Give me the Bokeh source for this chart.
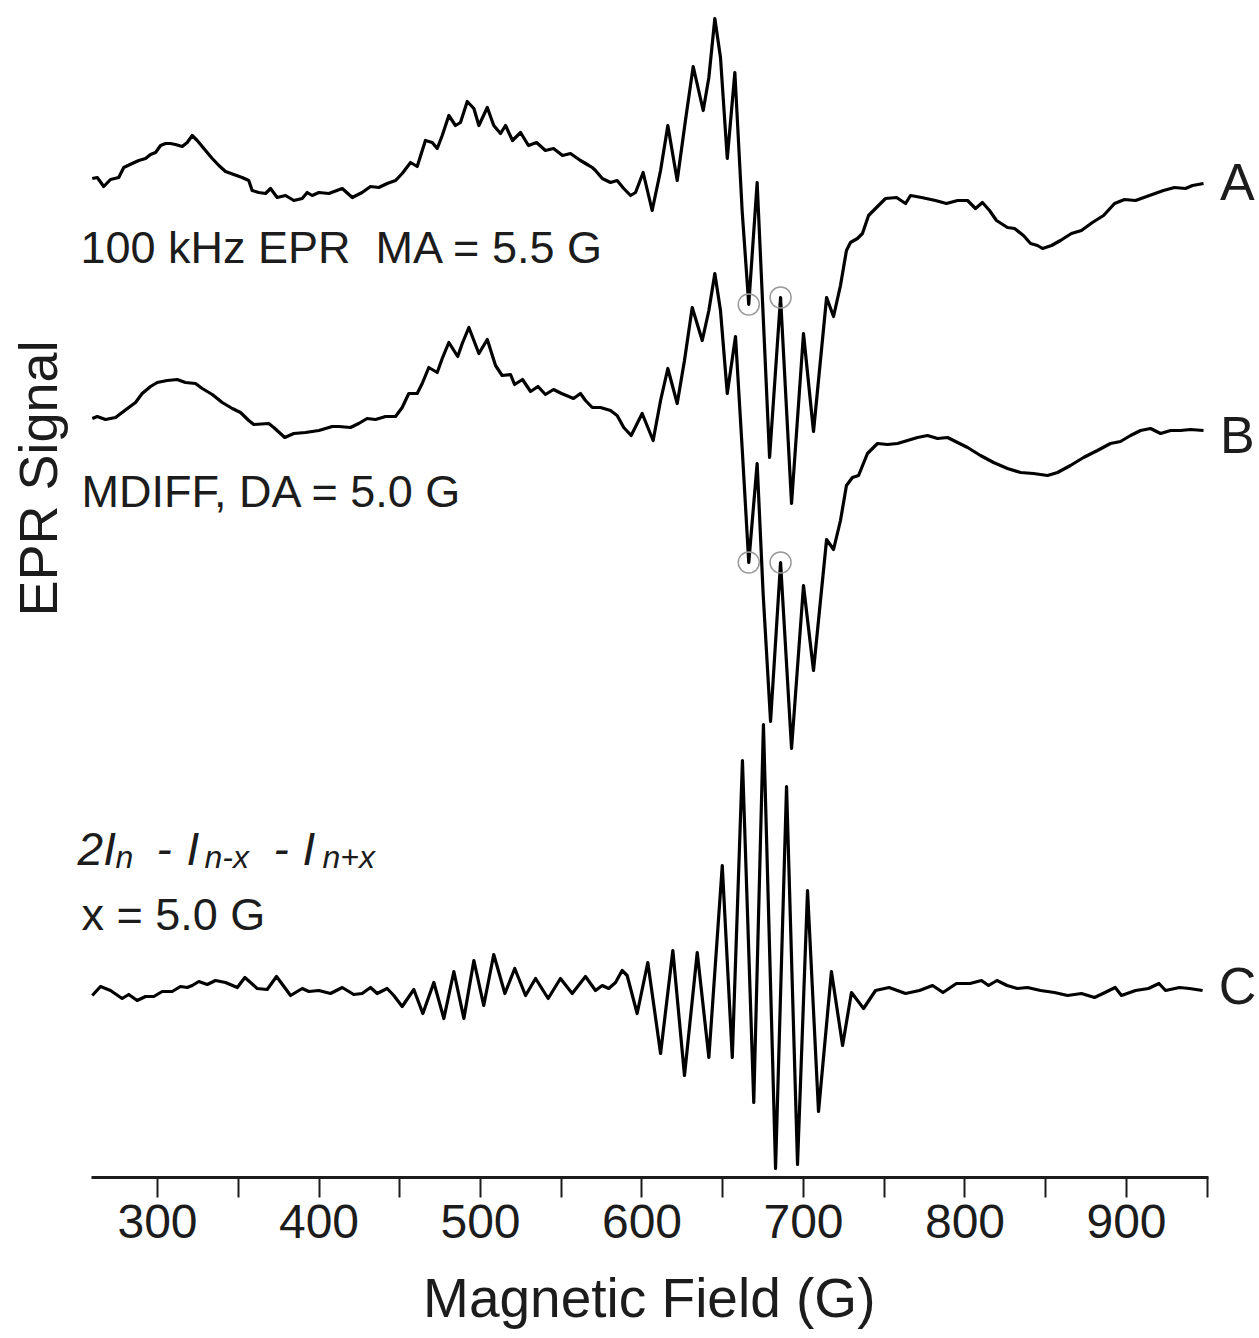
import numpy as np
from bokeh.plotting import figure
from bokeh.models import Range1d, FixedTicker
from bokeh.core.properties import value
from bokeh.embed import file_html
from bokeh.resources import INLINE

# ---- data: (magnetic field in G, signal in arbitrary units) ----
trace_a = [
    (259.6, 2), (262.7, 3), (266.7, -6), (270.9, 1), (276.0, 3), (279.1, 13), (284.3, 17), (288.4, 20),
    (292.6, 22), (295.7, 26), (298.8, 28), (301.9, 35), (305.0, 37), (308.0, 37), (311.1, 36), (315.3, 34),
    (318.4, 38), (321.5, 45), (324.6, 40), (328.7, 32), (333.9, 22), (338.0, 15), (342.1, 9), (347.2, 6),
    (352.4, 3), (356.5, 0), (358.6, -10), (362.7, -12), (366.9, -13), (370.0, -8), (374.1, -17), (379.3, -15),
    (384.4, -20), (389.6, -18), (392.7, -12), (395.8, -15), (399.9, -12), (406.1, -13), (414.4, -8), (420.6, -17),
    (426.7, -12), (431.9, -6), (437.0, -7), (442.2, -3), (447.4, 0), (451.5, 7), (456.7, 18), (460.8, 14),
    (465.9, 40), (470.1, 38), (473.2, 32), (476.3, 45), (480.4, 65), (484.5, 55), (487.6, 58), (491.8, 79),
    (495.9, 72), (499.0, 55), (504.2, 73), (508.2, 55), (512.4, 47), (515.5, 55), (519.8, 40), (524.8, 48),
    (529.7, 35), (534.7, 38), (540.2, 30), (545.2, 32), (550.8, 25), (555.7, 27), (561.9, 20), (566.1, 16),
    (569.2, 13), (571.2, 10), (575.4, 2), (580.5, -2), (584.6, 0), (588.7, -8), (592.9, -15), (596.0, -12),
    (600.7, 8), (606.3, -30), (611.5, 10), (616.0, 55), (621.8, 0), (626.9, 60), (631.7, 114), (637.9, 70),
    (641.4, 103), (645.1, 162), (648.6, 123), (652.8, 22), (657.5, 108), (662.0, -30), (666.1, -124), (671.3, -2),
    (679.0, -277), (685.8, -117), (692.6, -323), (700.0, -153), (706.2, -251), (714.3, -117), (718.6, -136),
    (722.9, -105), (726.6, -70), (729.1, -62), (733.4, -58), (736.5, -53), (740.3, -35), (744.6, -28),
    (750.8, -18), (757.6, -17), (763.2, -23), (766.3, -15), (773.1, -17), (781.7, -20), (788.5, -23),
    (795.4, -20), (801.6, -20), (806.5, -28), (810.8, -22), (815.2, -30), (819.5, -40), (826.3, -47),
    (830.7, -48), (836.2, -55), (840.6, -63), (844.9, -65), (848.0, -68), (853.6, -65), (859.1, -60),
    (865.9, -53), (872.1, -50), (878.9, -42), (885.8, -35), (892.6, -23), (898.8, -19), (905.6, -20),
    (914.2, -15), (922.9, -10), (929.7, -7), (936.5, -8), (940.9, -5), (947.7, -3),
]

trace_b = [
    (259.6, 0), (262.7, 2), (267.8, -1), (274.0, 1), (278.1, 6), (282.2, 11), (286.4, 16), (290.5, 25),
    (295.7, 32), (299.8, 36), (306.0, 38), (312.2, 39), (317.3, 36), (323.5, 35), (327.7, 30), (333.9, 24),
    (340.1, 16), (346.3, 10), (351.4, 6), (356.5, -2), (359.6, -6), (368.9, -5), (372.0, -9), (378.8, -19),
    (384.4, -15), (391.6, -14), (399.9, -12), (408.2, -8), (412.3, -8), (419.5, -9), (424.6, -5), (429.8, 0),
    (435.0, -1), (441.2, 2), (447.4, 2), (451.5, 11), (455.6, 25), (460.8, 25), (463.9, 35), (468.0, 51),
    (473.2, 46), (476.3, 60), (480.4, 76), (485.9, 62), (488.7, 75), (492.8, 91), (499.0, 65), (504.2, 79),
    (509.3, 53), (513.4, 43), (518.6, 44), (521.1, 34), (526.0, 39), (531.0, 27), (535.6, 32), (540.2, 24),
    (545.2, 29), (550.2, 25), (557.6, 20), (561.9, 25), (565.0, 18), (569.2, 11), (574.3, 11), (580.5, 8),
    (584.6, 3), (588.7, -9), (593.3, -17), (597.0, -5), (600.1, 5), (606.9, -22), (611.5, 18), (616.0, 50),
    (621.8, 15), (626.3, 58), (631.1, 111), (637.3, 78), (641.4, 108), (645.1, 145), (648.6, 108), (652.8, 25),
    (657.9, 82), (662.0, -29), (666.1, -144), (671.3, -45), (675.0, -175), (679.6, -303), (685.8, -144),
    (692.6, -330), (700.0, -167), (706.2, -252), (714.3, -121), (718.6, -131), (722.9, -102), (726.6, -67),
    (730.3, -59), (734.1, -57), (739.6, -35), (745.8, -25), (752.0, -26), (758.2, -25), (764.4, -22),
    (770.6, -19), (776.8, -17), (783.0, -20), (789.2, -19), (795.4, -24), (801.6, -29), (809.6, -37),
    (817.7, -44), (826.3, -50), (834.4, -54), (842.4, -55), (851.1, -57), (857.3, -54), (865.3, -47),
    (873.4, -39), (882.0, -32), (890.1, -25), (896.3, -23), (902.5, -17), (908.7, -12), (914.9, -10),
    (921.1, -15), (927.3, -12), (933.4, -12), (939.6, -11), (947.7, -12),
]

trace_c = [
    (259.6, -7), (264.7, 2), (270.9, -2), (278.1, -10), (282.2, -6), (287.4, -12), (292.6, -8), (297.7, -8),
    (302.9, -3), (309.1, -3), (314.2, 2), (318.4, 1), (321.5, 3), (325.6, 7), (330.8, 4), (335.9, 8),
    (342.1, 6), (349.4, 1), (354.1, 11), (361.7, 0), (367.9, -1), (373.7, 12), (382.4, -7), (389.6, 0),
    (393.7, -3), (399.9, -2), (407.1, -5), (414.4, 1), (421.5, -6), (426.7, -5), (431.9, 1), (436.0, -5),
    (442.2, 0), (446.3, -7), (451.5, -18), (458.7, -1), (464.3, -25), (471.1, 6), (477.3, -30), (483.5, 17),
    (489.7, -30), (495.9, 28), (502.0, -17), (508.2, 34), (515.1, -5), (521.2, 20), (527.9, -7), (534.1, 10),
    (541.9, -10), (549.5, 10), (556.8, -5), (565.0, 12), (571.2, -2), (575.4, 3), (579.4, 0), (583.6, 6),
    (587.7, 18), (590.8, 13), (597.0, -25), (603.6, 26), (611.5, -65), (619.1, 38), (626.3, -87), (634.2, 36),
    (641.4, -69), (649.7, 123), (655.9, -69), (662.2, 228), (669.2, -114), (675.2, 264), (682.7, -180),
    (689.5, 202), (696.3, -176), (702.5, 98), (709.3, -123), (717.3, 17), (724.2, -57), (729.7, -4),
    (737.2, -20), (744.6, -2), (753.0, 1), (763.2, -5), (771.8, -2), (779.9, 3), (786.4, -4), (794.7, 5),
    (803.1, 5), (810.2, 8), (814.6, 3), (819.8, 8), (826.1, 3), (832.4, 0), (838.7, 1), (846.8, -2),
    (855.4, -4), (863.5, -7), (872.1, -5), (880.2, -9), (886.7, -4), (893.0, 1), (896.9, -7), (905.6, -2),
    (913.6, 0), (920.1, 5), (924.2, -2), (932.8, 1), (939.0, 0), (947.1, -2),
]

trace_names = ["A", "B", "C"]
mark_fields = [666.1, 685.8]          # circled points on traces A and B
major_ticks = [300, 400, 500, 600, 700, 800, 900]
minor_ticks = [350, 450, 550, 650, 750, 850, 950]
axis_bounds = (259, 950)

# ---- layout (vertical offsets of the stacked traces, in the same units) ----
offsets = [-180, -418, -988]
axis_level = -1177

FONT = value("Liberation Sans")
INK = "#1c1c1c"

p = figure(width=1259, height=1338,
           x_range=Range1d(202.78, 982.36), y_range=Range1d(-1338, 0),
           output_backend="svg", toolbar_location=None, y_axis_location=None,
           min_border_left=0, min_border_right=0, min_border_top=0, min_border_bottom=0)
p.outline_line_color = None
p.grid.visible = False
p.background_fill_color = "white"
p.border_fill_color = "white"

traces = [trace_a, trace_b, trace_c]
for tr, off in zip(traces, offsets):
    xs = np.array([t[0] for t in tr])
    ys = np.array([t[1] for t in tr]) + off
    p.line(xs, ys, line_color="black", line_width=3.2, line_join="round")

# circled points on A and B
cx, cy = [], []
for tr, off in zip(traces[:2], offsets[:2]):
    xs = np.array([t[0] for t in tr])
    for f in mark_fields:
        i = int(np.argmin(np.abs(xs - f)))
        cx.append(xs[i])
        cy.append(tr[i][1] + off)
p.scatter(cx, cy, marker="circle", size=21, fill_color=None, line_color="#9a9a9a", line_width=1.5)

# trace letters
p.text(x=[968.7] * 3, y=[-181, -434, -985], text=trace_names, text_font=FONT,
       text_font_size="52px", text_align="center", text_baseline="alphabetic", text_color=INK)

# captions
p.text(x=[252.3, 252.9, 252.9], y=[-247, -491, -914],
       text=["100 kHz EPR \u00a0MA = 5.5 G", "MDIFF, DA = 5.0 G", "x = 5.0 G"],
       text_font=FONT, text_font_size="45px", text_align="left",
       text_baseline="alphabetic", text_color=INK)

# formula 2I_n - I_(n-x) - I_(n+x)
p.text(x=[250.5, 299.4, 318.0, 371.8, 389.8], y=[-848] * 5,
       text=["2I", "-", "I", "-", "I"], text_font=FONT, text_font_size="46px",
       text_font_style="italic", text_align="left", text_baseline="alphabetic", text_color=INK)
p.text(x=[274.0, 329.1, 402.2], y=[-856] * 3,
       text=["n", "n-x", "n+x"], text_font=FONT, text_font_size="32px",
       text_font_style="italic", text_align="left", text_baseline="alphabetic", text_color=INK)

# y label
p.text(x=[226.3], y=[-478], text=["EPR Signal"], text_font=FONT, text_font_size="54px",
       angle=np.pi / 2, text_align="center", text_baseline="middle", text_color=INK)

# x-axis title, centred under the drawn axis line
p.text(x=[0.5 * (axis_bounds[0] + axis_bounds[1])], y=[-1297], text=["Magnetic Field (G)"],
       text_font=FONT, text_font_size="55px", text_align="center",
       text_baseline="alphabetic", text_color=INK)

ax = p.xaxis[0]
ax.fixed_location = axis_level
ax.ticker = FixedTicker(ticks=major_ticks, minor_ticks=minor_ticks)
ax.bounds = (axis_bounds[0], axis_bounds[1] + 0.5)
ax.axis_line_width = 3
ax.axis_line_color = INK
ax.major_tick_in = 0
ax.major_tick_out = 20
ax.minor_tick_in = 0
ax.minor_tick_out = 20
ax.major_tick_line_width = 2
ax.minor_tick_line_width = 2
ax.major_tick_line_color = INK
ax.minor_tick_line_color = INK
ax.major_label_standoff = 7
ax.major_label_text_font = "Liberation Sans"
ax.major_label_text_font_size = "48px"
ax.major_label_text_color = INK

open("out.html", "w").write(file_html(p, INLINE))
